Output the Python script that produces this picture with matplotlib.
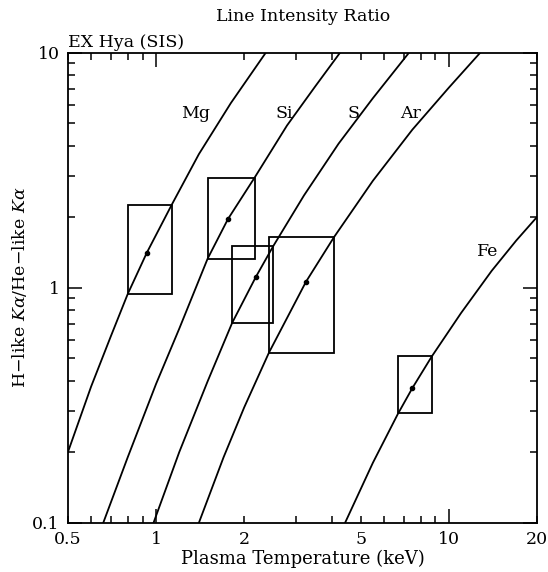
import matplotlib
matplotlib.use("Agg")
import matplotlib.pyplot as plt
from matplotlib.patches import Rectangle
from matplotlib.ticker import FixedLocator, FixedFormatter, NullFormatter

plt.rcParams['font.family'] = 'DejaVu Serif'
plt.rcParams['mathtext.fontset'] = 'dejavuserif'

# model curves: temperature (keV) vs H-like/He-like ratio
mg_t = [0.5, 0.6, 0.7, 0.8, 0.93, 1.13, 1.4, 1.8, 2.37]
mg_r = [0.20, 0.38, 0.62, 0.94, 1.41, 2.25, 3.7, 6.1, 10]
si_t = [0.66, 0.8, 1.0, 1.2, 1.5, 1.76, 2.17, 2.8, 3.5, 4.25]
si_r = [0.1, 0.19, 0.39, 0.67, 1.33, 1.96, 2.94, 4.9, 7.2, 10]
s_t = [0.98, 1.2, 1.5, 1.82, 2.19, 2.51, 3.2, 4.2, 5.5, 7.31]
s_r = [0.1, 0.2, 0.4, 0.71, 1.11, 1.5, 2.47, 4.1, 6.4, 10]
ar_t = [1.4, 1.7, 2.0, 2.43, 3.25, 4.05, 5.5, 7.5, 10, 12.8]
ar_r = [0.1, 0.19, 0.31, 0.53, 1.06, 1.64, 2.85, 4.7, 7.1, 10]
fe_t = [4.42, 5.5, 6.69, 7.51, 8.74, 11, 14, 17, 20]
fe_r = [0.1, 0.18, 0.29, 0.375, 0.51, 0.78, 1.18, 1.59, 2.0]

curves = [(mg_t, mg_r), (si_t, si_r), (s_t, s_r), (ar_t, ar_r), (fe_t, fe_r)]
names = ["Mg", "Si", "S", "Ar", "Fe"]
name_pos = [(1.36, 5.5), (2.74, 5.5), (4.74, 5.5), (7.37, 5.5), (13.6, 1.42)]

# measured values: best T, T range, best ratio, ratio range
obs_t = [0.93, 1.76, 2.19, 3.25, 7.51]
obs_tlo = [0.80, 1.50, 1.82, 2.43, 6.69]
obs_thi = [1.13, 2.17, 2.51, 4.05, 8.74]
obs_r = [1.41, 1.96, 1.11, 1.06, 0.375]
obs_rlo = [0.94, 1.33, 0.71, 0.53, 0.292]
obs_rhi = [2.25, 2.94, 1.50, 1.64, 0.512]

fig = plt.figure(figsize=(5.48, 5.72), dpi=100)
ax = fig.add_axes([0.124, 0.086, 0.856, 0.822])

for (t, r) in curves:
    ax.plot(t, r, color='black', linewidth=1.3)

for i in range(len(obs_t)):
    ax.add_patch(Rectangle((obs_tlo[i], obs_rlo[i]), obs_thi[i] - obs_tlo[i],
                           obs_rhi[i] - obs_rlo[i], fill=False,
                           edgecolor='black', linewidth=1.3))
ax.plot(obs_t, obs_r, 'o', color='black', markersize=3)

for name, (x, y) in zip(names, name_pos):
    ax.text(x, y, name, fontsize=12.5, ha='center', va='center')

ax.set_xscale('log')
ax.set_yscale('log')
ax.set_xlim(0.5, 20)
ax.set_ylim(0.1, 10)

ax.xaxis.set_major_locator(FixedLocator([1, 10]))
ax.xaxis.set_major_formatter(FixedFormatter(["1", "10"]))
ax.xaxis.set_minor_locator(FixedLocator([0.5, 0.6, 0.7, 0.8, 0.9, 2, 3, 4, 5, 6, 7, 8, 9, 20]))
ax.xaxis.set_minor_formatter(FixedFormatter(["0.5", "", "", "", "", "2", "", "", "5", "", "", "", "", "20"]))
ax.yaxis.set_major_locator(FixedLocator([0.1, 1, 10]))
ax.yaxis.set_major_formatter(FixedFormatter(["0.1", "1", "10"]))
ax.yaxis.set_minor_locator(FixedLocator([0.2, 0.3, 0.4, 0.5, 0.6, 0.7, 0.8, 0.9,
                                         2, 3, 4, 5, 6, 7, 8, 9]))
ax.yaxis.set_minor_formatter(NullFormatter())

ax.tick_params(which='both', direction='in', top=True, right=True,
               labelsize=12.5, width=1.1, pad=6)
ax.tick_params(which='major', length=10)
ax.tick_params(which='minor', length=5)
for sp in ax.spines.values():
    sp.set_linewidth(1.3)

ax.set_xlabel("Plasma Temperature (keV)", fontsize=13, labelpad=1)
ax.set_ylabel(r"H$-$like $K\alpha$/He$-$like $K\alpha$", fontsize=12.5, labelpad=2)
ax.set_title("EX Hya (SIS)", fontsize=12.5, loc='left', pad=4)
fig.text(0.553, 0.971, "Line Intensity Ratio", fontsize=12.5, ha='center', va='center')

fig.savefig("out.png", dpi=100)
